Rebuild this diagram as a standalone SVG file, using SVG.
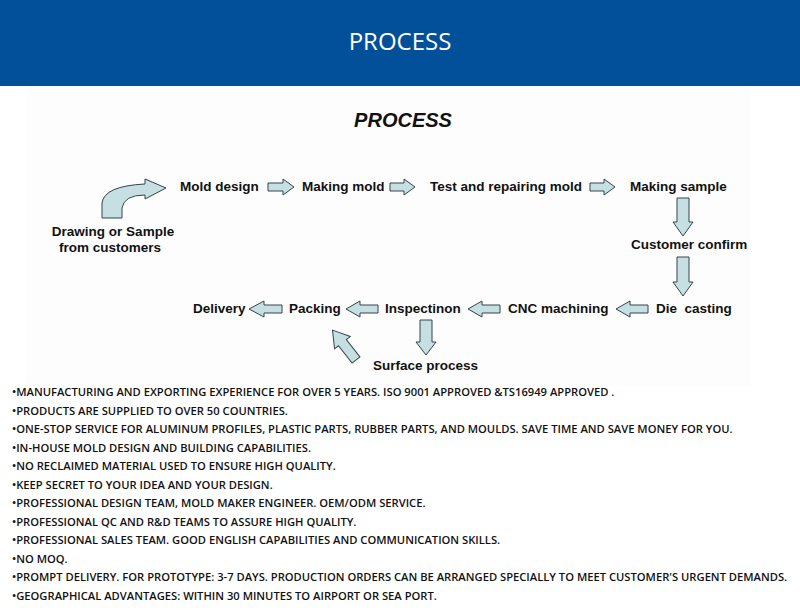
<svg xmlns="http://www.w3.org/2000/svg" width="800" height="610" viewBox="0 0 800 610">
<style>
.hdr{font-family:"Open Sans","Noto Sans",sans-serif;font-size:24px;fill:#fff}
.ttl{font-family:"Liberation Sans",Arial,sans-serif;font-size:20px;font-weight:bold;font-style:italic;fill:#111}
.lbl{font-family:"Liberation Sans",Arial,sans-serif;font-size:13.5px;font-weight:bold;fill:#111}
.arr{fill:#c6dfe2;stroke:#34444a;stroke-width:1}
.bul{font-family:"Open Sans","Noto Sans",sans-serif;font-size:11.2px;font-weight:600;fill:#111}
</style>
<rect x="0" y="0" width="800" height="610" fill="#fff"/>
<rect x="0" y="0" width="800" height="86" fill="#03509a"/>
<text class="hdr" x="400" y="50" text-anchor="middle">PROCESS</text>
<rect x="27" y="86" width="724" height="300" fill="#fdfdfd"/>
<text class="ttl" x="403" y="127" text-anchor="middle">PROCESS</text>

<g id="connectors">
<path class="arr" d="M102,218 L102,203 Q104,186 145,184 L145,179 L166,188 L145,199 L145,195 Q124,195 122,208 L122,218 Z"/>
<path class="arr" d="M268,183 L283,183 L283,179 L294,187 L283,195 L283,191 L268,191 Z"/>
<path class="arr" d="M390,183 L404,183 L404,179 L415,187 L404,195 L404,191 L390,191 Z"/>
<path class="arr" d="M590,183 L604,183 L604,179 L615,187 L604,195 L604,191 L590,191 Z"/>
<path class="arr" d="M677,198 L689,198 L689,222 L693,222 L683,236 L673,222 L677,222 Z"/>
<path class="arr" d="M677,257 L689,257 L689,282 L693,282 L683,296 L673,282 L677,282 Z"/>
<path class="arr" d="M648,305 L630,305 L630,301 L616,309 L630,317 L630,313 L648,313 Z"/>
<path class="arr" d="M500,305 L482,305 L482,301 L468,309 L482,317 L482,313 L500,313 Z"/>
<path class="arr" d="M378,305 L360,305 L360,301 L346,309 L360,317 L360,313 L378,313 Z"/>
<path class="arr" d="M282,305 L264,305 L264,301 L249,309 L264,317 L264,313 L282,313 Z"/>
<path class="arr" d="M420,320 L432,320 L432,342 L436,342 L426,355 L416,342 L420,342 Z"/>
<path class="arr" d="M0,-5 L-22,-5 L-22,-10 L-38,0 L-22,10 L-22,5 L0,5 Z" transform="translate(356,360) rotate(51.8)"/>
</g>

<g id="n-drawing"><text class="lbl" x="113" y="236" text-anchor="middle">Drawing or Sample</text><text class="lbl" x="110" y="252" text-anchor="middle">from customers</text></g>
<g id="n-molddesign"><text class="lbl" x="180" y="191">Mold design</text></g>
<g id="n-makingmold"><text class="lbl" x="302" y="191">Making mold</text></g>
<g id="n-test"><text class="lbl" x="430" y="191">Test and repairing mold</text></g>
<g id="n-sample"><text class="lbl" x="630" y="191">Making sample</text></g>
<g id="n-confirm"><text class="lbl" x="631" y="249">Customer confirm</text></g>
<g id="n-die"><text class="lbl" x="656" y="313" xml:space="preserve">Die  casting</text></g>
<g id="n-cnc"><text class="lbl" x="508" y="313">CNC machining</text></g>
<g id="n-insp"><text class="lbl" x="385" y="313">Inspectinon</text></g>
<g id="n-packing"><text class="lbl" x="289" y="313">Packing</text></g>
<g id="n-delivery"><text class="lbl" x="193" y="313">Delivery</text></g>
<g id="n-surface"><text class="lbl" x="373" y="370">Surface process</text></g>

<g id="bullets">
<text class="bul" x="12" y="396">•MANUFACTURING AND EXPORTING EXPERIENCE FOR OVER 5 YEARS. ISO 9001 APPROVED &amp;TS16949 APPROVED .</text>
<text class="bul" x="12" y="414.5">•PRODUCTS ARE SUPPLIED TO OVER 50 COUNTRIES.</text>
<text class="bul" x="12" y="433">•ONE-STOP SERVICE FOR ALUMINUM PROFILES, PLASTIC PARTS, RUBBER PARTS, AND MOULDS. SAVE TIME AND SAVE MONEY FOR YOU.</text>
<text class="bul" x="12" y="451.5">•IN-HOUSE MOLD DESIGN AND BUILDING CAPABILITIES.</text>
<text class="bul" x="12" y="470">•NO RECLAIMED MATERIAL USED TO ENSURE HIGH QUALITY.</text>
<text class="bul" x="12" y="488.5">•KEEP SECRET TO YOUR IDEA AND YOUR DESIGN.</text>
<text class="bul" x="12" y="507">•PROFESSIONAL DESIGN TEAM, MOLD MAKER ENGINEER. OEM/ODM SERVICE.</text>
<text class="bul" x="12" y="525.5">•PROFESSIONAL QC AND R&amp;D TEAMS TO ASSURE HIGH QUALITY.</text>
<text class="bul" x="12" y="544">•PROFESSIONAL SALES TEAM. GOOD ENGLISH CAPABILITIES AND COMMUNICATION SKILLS.</text>
<text class="bul" x="12" y="562.5">•NO MOQ.</text>
<text class="bul" x="12" y="581">•PROMPT DELIVERY. FOR PROTOTYPE: 3-7 DAYS. PRODUCTION ORDERS CAN BE ARRANGED SPECIALLY TO MEET CUSTOMER'S URGENT DEMANDS.</text>
<text class="bul" x="12" y="599.5">•GEOGRAPHICAL ADVANTAGES: WITHIN 30 MINUTES TO AIRPORT OR SEA PORT.</text>
</g>
</svg>
